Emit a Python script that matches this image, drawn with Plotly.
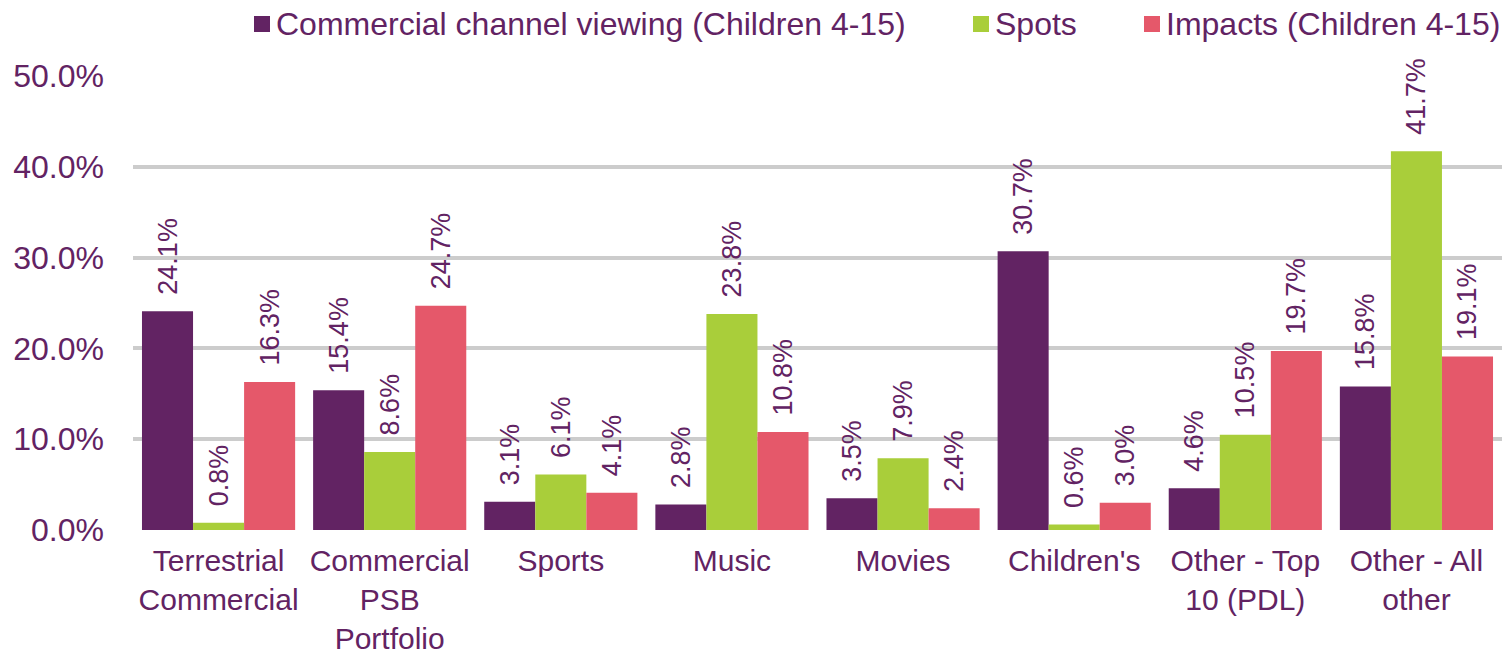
import plotly.graph_objects as go

# Share of commercial viewing, spots and impacts by channel genre
categories = [
    "Terrestrial<br>Commercial",
    "Commercial<br>PSB<br>Portfolio",
    "Sports",
    "Music",
    "Movies",
    "Children's",
    "Other - Top<br>10 (PDL)",
    "Other - All<br>other",
]
viewing = [24.1, 15.4, 3.1, 2.8, 3.5, 30.7, 4.6, 15.8]
spots = [0.8, 8.6, 6.1, 23.8, 7.9, 0.6, 10.5, 41.7]
impacts = [16.3, 24.7, 4.1, 10.8, 2.4, 3.0, 19.7, 19.1]

series_names = [
    "Commercial channel viewing (Children 4-15)",
    "Spots",
    "Impacts (Children 4-15)",
]
series_values = [viewing, spots, impacts]
series_colors = ["#622363", "#a9ce3a", "#e5586a"]

tick_vals = [0, 10, 20, 30, 40, 50]
tick_text = ["0.0%", "10.0%", "20.0%", "30.0%", "40.0%", "50.0%"]

TEXT = "#622363"
FONT = "Liberation Sans, Arial, sans-serif"

W, H = 1502, 654
ML, MR, MT, MB = 133, 0, 76, 124
PW, PH = W - ML - MR, H - MT - MB


def px_to_paper_x(px):
    return (px - ML) / PW


def px_to_paper_y(py):
    return (H - MB - py) / PH


fig = go.Figure()
for name, vals, color in zip(series_names, series_values, series_colors):
    fig.add_trace(
        go.Bar(
            name=name,
            x=categories,
            y=vals,
            marker=dict(color=color, line=dict(width=0)),
            text=["\u2002" + f"{v:.1f}%" for v in vals],
            textposition="outside",
            textangle=-90,
            constraintext="none",
            cliponaxis=False,
            textfont=dict(family=FONT, size=27, color=TEXT),
            hoverinfo="skip",
            showlegend=False,
        )
    )

# Legend row along the top: square swatch followed by the series name
legend_swatch_left = [254, 973, 1144]
legend_y = px_to_paper_y(24)
for name, color, left in zip(series_names, series_colors, legend_swatch_left):
    fig.add_shape(
        type="rect",
        xref="paper",
        yref="paper",
        xsizemode="pixel",
        ysizemode="pixel",
        xanchor=px_to_paper_x(left),
        yanchor=legend_y,
        x0=0,
        x1=16,
        y0=-8,
        y1=8,
        fillcolor=color,
        line=dict(width=0),
        layer="above",
    )
    fig.add_annotation(
        text=name,
        xref="paper",
        yref="paper",
        x=px_to_paper_x(left + 21),
        y=legend_y,
        xanchor="left",
        yanchor="middle",
        showarrow=False,
        font=dict(family=FONT, size=32, color=TEXT),
        borderpad=0,
    )

fig.update_layout(
    width=W,
    height=H,
    margin=dict(l=ML, r=MR, t=MT, b=MB, autoexpand=False),
    paper_bgcolor="white",
    plot_bgcolor="white",
    barmode="group",
    bargap=0.105,
    bargroupgap=0,
    font=dict(family=FONT, color=TEXT, size=31),
    showlegend=False,
    xaxis=dict(
        showgrid=False,
        showline=False,
        ticks="",
        ticklabelstandoff=10,
        tickfont=dict(family=FONT, size=30, color=TEXT),
        automargin=False,
        fixedrange=True,
    ),
    yaxis=dict(
        range=[0, 50],
        tickvals=tick_vals,
        ticktext=tick_text,
        showgrid=True,
        gridcolor="#cccccc",
        gridwidth=4,
        zeroline=False,
        showline=False,
        ticks="",
        ticklabelstandoff=28,
        tickfont=dict(family=FONT, size=32, color=TEXT),
        automargin=False,
        fixedrange=True,
    ),
)

fig.write_html("out.html")
